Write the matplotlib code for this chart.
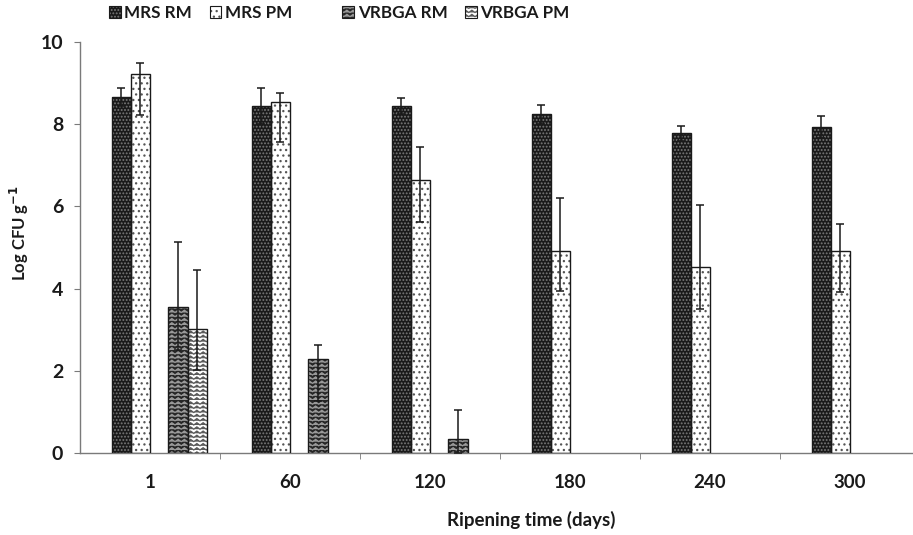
import numpy as np
import matplotlib
matplotlib.use("Agg")
import matplotlib.pyplot as plt
import matplotlib.hatch as mhatch
from matplotlib.path import Path
from matplotlib.patches import Patch
from matplotlib.legend_handler import HandlerTuple

# ---------------- data ----------------
days = ["1", "60", "120", "180", "240", "300"]
series_names = ["MRS RM", "MRS PM", "VRBGA RM", "VRBGA PM"]

mrs_rm = [8.66, 8.44, 8.44, 8.24, 7.77, 7.93]
mrs_rm_err_up = [0.22, 0.44, 0.20, 0.23, 0.18, 0.27]
mrs_rm_err_lo = [0.22, 0.44, 0.20, 0.23, 0.18, 0.27]

mrs_pm = [9.22, 8.54, 6.64, 4.92, 4.52, 4.92]
mrs_pm_err_up = [0.25, 0.22, 0.79, 1.27, 1.52, 0.64]
mrs_pm_err_lo = [1.00, 0.99, 1.01, 0.98, 1.01, 1.01]

vrbga_rm = [3.55, 2.28, 0.34, np.nan, np.nan, np.nan]
vrbga_rm_err_up = [1.58, 0.35, 0.71, np.nan, np.nan, np.nan]
vrbga_rm_err_lo = [1.04, 1.01, 0.34, np.nan, np.nan, np.nan]

vrbga_pm = [3.01, np.nan, np.nan, np.nan, np.nan, np.nan]
vrbga_pm_err_up = [1.44, np.nan, np.nan, np.nan, np.nan, np.nan]
vrbga_pm_err_lo = [0.99, np.nan, np.nan, np.nan, np.nan, np.nan]


# ------------- zigzag hatch (replaces '*') -------------
class ZigZag(mhatch.HatchPatternBase):
    def __init__(self, hatch, density):
        self.num_rows = hatch.count('*') * density
        self.teeth = max(int(round(self.num_rows * 0.65)), 1)
        self.per_row = 2 * self.teeth + 1
        self.num_vertices = self.num_rows * self.per_row

    def set_vertices_and_codes(self, vertices, codes):
        n = self.num_rows
        t = self.teeth
        xs = np.linspace(0, 1, 2 * t + 1)
        amp = 0.55 / n
        k = 0
        for i in range(n):
            y0 = i / n
            ys = y0 + np.where(np.arange(2 * t + 1) % 2 == 1, amp, 0.0)
            vertices[k:k + 2 * t + 1, 0] = xs
            vertices[k:k + 2 * t + 1, 1] = ys
            codes[k] = Path.MOVETO
            codes[k + 1:k + 2 * t + 1] = Path.LINETO
            k += 2 * t + 1


mhatch._hatch_types = [ZigZag if c is mhatch.Stars else c for c in mhatch._hatch_types]

plt.rcParams['font.family'] = ['Lato', 'DejaVu Sans']
plt.rcParams['hatch.linewidth'] = 0.9

fig = plt.figure(figsize=(9.13, 5.35), dpi=100)
ax = fig.add_axes([80 / 913, 0.1527, 840 / 913, 0.7695])

x = np.arange(len(days))
width = 0.138
offsets = [-0.2036, -0.068, 0.200, 0.337]
styles = [
    dict(fc="#1a1a1a", hc="#7a7a7a", hatch="....."),
    dict(fc="white", hc="#555555", hatch="..."),
    dict(fc="#262626", hc="#9a9a9a", hatch="****"),
    dict(fc="white", hc="#5a5a5a", hatch="****"),
]
values = [mrs_rm, mrs_pm, vrbga_rm, vrbga_pm]
errs_up = [mrs_rm_err_up, mrs_pm_err_up, vrbga_rm_err_up, vrbga_pm_err_up]
errs_lo = [mrs_rm_err_lo, mrs_pm_err_lo, vrbga_rm_err_lo, vrbga_pm_err_lo]

handles = []
for k in range(4):
    v = np.array(values[k], dtype=float)
    up = np.array(errs_up[k], dtype=float)
    lo = np.array(errs_lo[k], dtype=float)
    m = ~np.isnan(v)
    xs = x[m] + offsets[k]
    st = styles[k]
    ax.bar(xs, v[m], width=width, color=st["fc"], edgecolor=st["hc"],
           hatch=st["hatch"], linewidth=0, zorder=2)
    ax.bar(xs, v[m], width=width, fill=False, edgecolor="#1a1a1a",
           linewidth=1.0, zorder=3)
    ax.errorbar(xs, v[m], yerr=[lo[m], up[m]], fmt="none", ecolor="#1a1a1a",
                elinewidth=1.1, capsize=2.6, capthick=1.1, zorder=4)
    h1 = Patch(facecolor=st["fc"], edgecolor=st["hc"], hatch=st["hatch"], linewidth=0)
    h2 = Patch(fill=False, edgecolor="#1a1a1a", linewidth=0.8)
    handles.append((h1, h2))

blank = Patch(facecolor="none", edgecolor="none")
leg_handles = [handles[0], handles[1], blank, handles[2], handles[3]]
leg_labels = [series_names[0], series_names[1], "", series_names[2], series_names[3]]
leg = fig.legend(leg_handles, leg_labels, loc="upper left",
                 bbox_to_anchor=(109 / 913, 1 - 5 / 535), ncol=5, frameon=False,
                 handler_map={tuple: HandlerTuple(ndivide=1)},
                 handlelength=0.69, handleheight=0.72, handletextpad=0.2,
                 columnspacing=1.03, borderpad=0, borderaxespad=0,
                 prop=dict(family=['Lato', 'DejaVu Sans'], weight='bold', size=12.3))
for t in leg.get_texts():
    t.set_color("#1a1a1a")

ax.set_xlim(-0.5, 5.5)
ax.set_ylim(0, 10)
ax.set_yticks([0, 2, 4, 6, 8, 10])
ax.set_xticks(x)
ax.set_xticklabels(days)
ax.set_xticks(np.arange(0.5, 6.5, 1.0), minor=True)

for s in ["top", "right"]:
    ax.spines[s].set_visible(False)
for s in ["left", "bottom"]:
    ax.spines[s].set_color("#7a7a7a")
    ax.spines[s].set_linewidth(1.0)

ax.tick_params(axis="x", which="major", length=0, pad=15, labelsize=13.5,
               labelcolor="#1a1a1a")
ax.tick_params(axis="x", which="minor", length=4, direction="out", color="#7a7a7a")
ax.tick_params(axis="y", which="major", length=4, direction="out", color="#7a7a7a",
               pad=8, labelsize=14, labelcolor="#1a1a1a")
for lab in ax.get_xticklabels() + ax.get_yticklabels():
    lab.set_fontweight("bold")

ax.set_xlabel("Ripening time (days)", fontsize=13.5, fontweight="bold", color="#1a1a1a")
ax.xaxis.set_label_coords(0.537, -0.14)
ax.set_ylabel("Log CFU g$^{\\mathbf{-1}}$", fontsize=12, fontweight="bold", color="#1a1a1a")
ax.yaxis.set_label_coords(-0.058, 0.535)

fig.savefig("out.png", dpi=100)
